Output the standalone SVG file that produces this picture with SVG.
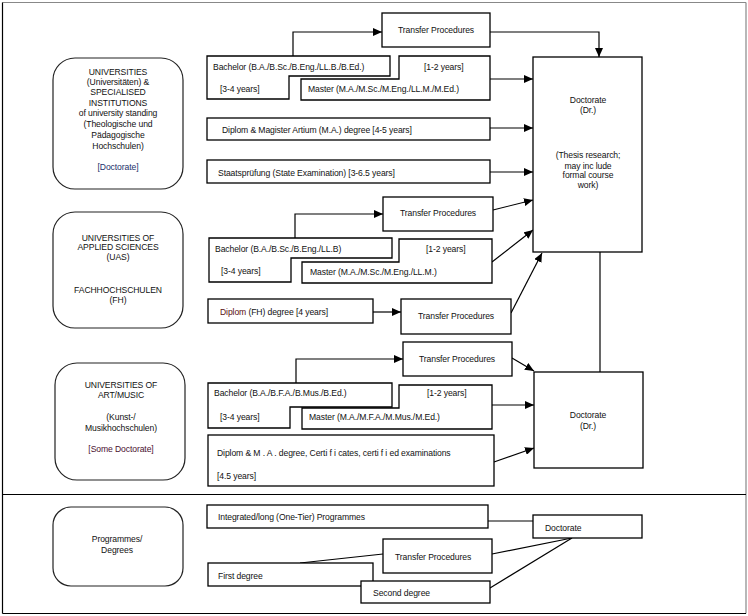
<svg xmlns="http://www.w3.org/2000/svg" width="748" height="616" viewBox="0 0 748 616">
<style>
text{font-family:"Liberation Sans",Arial,sans-serif;font-size:8.6px;letter-spacing:-0.1px;fill:#111}
.c{text-anchor:middle}
.box{fill:#fff;stroke:#000;stroke-width:1.3}
.rb{fill:#fff;stroke:#222;stroke-width:1.2}
.ln{fill:none;stroke:#000;stroke-width:1.2}
.ar{fill:none;stroke:#000;stroke-width:1.2;marker-end:url(#ah)}
</style>
<defs>
<marker id="ah" markerUnits="userSpaceOnUse" markerWidth="10" markerHeight="8" refX="9" refY="4" orient="auto">
<path d="M0,0 L9,4 L0,8 Z" fill="#000"/>
</marker>
</defs>
<rect x="0" y="0" width="748" height="616" fill="#fff"/>
<g id="frame">
<line x1="2.5" y1="2.5" x2="746" y2="2.5" stroke="#888" stroke-width="1.2"/>
<line x1="746" y1="2.5" x2="746" y2="613.5" stroke="#888" stroke-width="1.2"/>
<line x1="2.5" y1="2.5" x2="2.5" y2="613.5" stroke="#000" stroke-width="1.2"/>
<line x1="2.5" y1="613.5" x2="746" y2="613.5" stroke="#000" stroke-width="1.2"/>
<line x1="2.5" y1="494.5" x2="746" y2="494.5" stroke="#000" stroke-width="1.2"/>
</g>
<g id="connectors">
<path class="ar" d="M293,56 V32 H382"/>
<path class="ar" d="M490,32 H599 V57"/>
<path class="ar" d="M490,79 H533"/>
<path class="ar" d="M490,128 H533"/>
<path class="ar" d="M490,172 H533"/>
<path class="ar" d="M295,238 V214 H383"/>
<path class="ar" d="M493,210 L533,200"/>
<path class="ar" d="M492,262 L533,230"/>
<path class="ar" d="M373,312 H401"/>
<path class="ar" d="M511,313 L542,253"/>
<path class="ln" d="M600,252 V372"/>
<path class="ar" d="M296,383 V359 H403"/>
<path class="ar" d="M512,358 L534,371"/>
<path class="ar" d="M492,405 H534"/>
<path class="ar" d="M494,462 L534,448"/>
<path class="ln" d="M488,521 H533"/>
<path class="ln" d="M492,554 L572,538"/>
<path class="ln" d="M490,588 L572,538"/>
<path class="ln" d="M300,563 L383,554"/>
</g>
<g id="uni">
<rect class="rb" x="53" y="58" width="130" height="131" rx="22"/>
<text class="c" x="118" y="75">UNIVERSITIES</text>
<text class="c" x="118" y="85">(Universitäten) &amp;</text>
<text class="c" x="118" y="95">SPECIALISED</text>
<text class="c" x="118" y="105.5">INSTITUTIONS</text>
<text class="c" x="118" y="116">of university standing</text>
<text class="c" x="118" y="127">(Theologische und</text>
<text class="c" x="118" y="138">Pädagogische</text>
<text class="c" x="118" y="149">Hochschulen)</text>
<text class="c" x="118" y="170" style="fill:#22306a">[Doctorate]</text>
</g>
<g id="uas">
<rect class="rb" x="53" y="212" width="130" height="116" rx="22"/>
<text class="c" x="118" y="241">UNIVERSITIES OF</text>
<text class="c" x="118" y="250">APPLIED SCIENCES</text>
<text class="c" x="118" y="260">(UAS)</text>
<text class="c" x="118" y="293">FACHHOCHSCHULEN</text>
<text class="c" x="118" y="303">(FH)</text>
</g>
<g id="art">
<rect class="rb" x="55" y="363" width="130" height="117" rx="22"/>
<text class="c" x="121" y="388">UNIVERSITIES OF</text>
<text class="c" x="121" y="398">ART/MUSIC</text>
<text class="c" x="121" y="420">(Kunst-/</text>
<text class="c" x="121" y="431">Musikhochschulen)</text>
<text class="c" x="121" y="452" style="fill:#4a1030">[Some Doctorate]</text>
</g>
<g id="prog">
<rect class="rb" x="53" y="507" width="130" height="79" rx="18"/>
<text class="c" x="117" y="542">Programmes/</text>
<text class="c" x="117" y="553">Degrees</text>
</g>
<g id="transfer1">
<rect class="box" x="382" y="13" width="108" height="34"/>
<text class="c" x="436" y="33">Transfer Procedures</text>
</g>
<g id="bachelor1">
<path class="box" d="M207,56 H390 V76 H289 V99 H207 Z"/>
<text x="213" y="70">Bachelor (B.A./B.Sc./B.Eng./LL.B./B.Ed.)</text>
<text x="220" y="92">[3-4 years]</text>
</g>
<g id="master1">
<path class="box" d="M399,56 H490 V100 H301 V79 H399 Z"/>
<text x="424" y="70">[1-2 years]</text>
<text x="308" y="92">Master (M.A./M.Sc./M.Eng./LL.M./M.Ed.)</text>
</g>
<g id="diplom1">
<rect class="box" x="207" y="118" width="283" height="22"/>
<text x="222" y="133">Diplom &amp; Magister Artium (M.A.) degree [4-5 years]</text>
</g>
<g id="staats">
<rect class="box" x="207" y="160" width="283" height="23"/>
<text x="218" y="176">Staatsprüfung (State Examination) [3-6.5 years]</text>
</g>
<g id="doctorate1">
<rect class="box" x="533" y="57" width="109" height="195"/>
<text class="c" x="588" y="103">Doctorate</text>
<text class="c" x="588" y="113">(Dr.)</text>
<text class="c" x="588" y="158">(Thesis research;</text>
<text class="c" x="588" y="169">may inc lude</text>
<text class="c" x="588" y="178">formal course</text>
<text class="c" x="588" y="188">work)</text>
</g>
<g id="transfer2">
<rect class="box" x="383" y="197" width="110" height="34"/>
<text class="c" x="438" y="216">Transfer Procedures</text>
</g>
<g id="bachelor2">
<path class="box" d="M209,238 H392 V258 H291 V282 H209 Z"/>
<text x="215" y="252">Bachelor (B.A./B.Sc./B.Eng./LL.B)</text>
<text x="221" y="274">[3-4 years]</text>
</g>
<g id="master2">
<path class="box" d="M399,239 H492 V283 H302 V262 H399 Z"/>
<text x="426" y="252">[1-2 years]</text>
<text x="310" y="275">Master (M.A./M.Sc./M.Eng./LL.M.)</text>
</g>
<g id="diplomfh">
<rect class="box" x="208" y="299" width="165" height="24"/>
<text x="220" y="315"><tspan style="fill:#5a1010">Diplom</tspan> (FH) degree [4 years]</text>
</g>
<g id="transfer3">
<rect class="box" x="401" y="299" width="110" height="35"/>
<text class="c" x="456" y="319">Transfer Procedures</text>
</g>
<g id="transfer4">
<rect class="box" x="403" y="342" width="109" height="34"/>
<text class="c" x="457" y="362">Transfer Procedures</text>
</g>
<g id="bachelor3">
<path class="box" d="M208,383 H392 V407 H290 V428 H208 Z"/>
<text x="214" y="396">Bachelor (B.A./B.F.A./B.Mus./B.Ed.)</text>
<text x="220" y="420">[3-4 years]</text>
</g>
<g id="master3">
<path class="box" d="M399,385 H492 V429 H302 V408 H399 Z"/>
<text x="427" y="396">[1-2 years]</text>
<text x="309" y="420">Master (M.A./M.F.A./M.Mus./M.Ed.)</text>
</g>
<g id="diplom3">
<rect class="box" x="208" y="435" width="286" height="51"/>
<text x="217" y="456">Diplom &amp; M . A . degree, Certi f i cates, certi f i ed examinations</text>
<text x="217" y="479">[4.5 years]</text>
</g>
<g id="doctorate2">
<rect class="box" x="534" y="372" width="109" height="96"/>
<text class="c" x="588" y="418">Doctorate</text>
<text class="c" x="588" y="429">(Dr.)</text>
</g>
<g id="integrated">
<rect class="box" x="207" y="505" width="281" height="23"/>
<text x="218" y="520">Integrated/long (One-Tier) Programmes</text>
</g>
<g id="doctorate3">
<rect class="box" x="533" y="515" width="109" height="23"/>
<text x="545" y="531">Doctorate</text>
</g>
<g id="transfer5">
<rect class="box" x="383" y="539" width="109" height="34"/>
<text x="395" y="560">Transfer Procedures</text>
</g>
<g id="first">
<rect class="box" x="208" y="563" width="165" height="23"/>
<text x="218" y="579">First degree</text>
</g>
<g id="second">
<rect class="box" x="361" y="581" width="129" height="22"/>
<text x="373" y="596">Second degree</text>
</g>
</svg>
